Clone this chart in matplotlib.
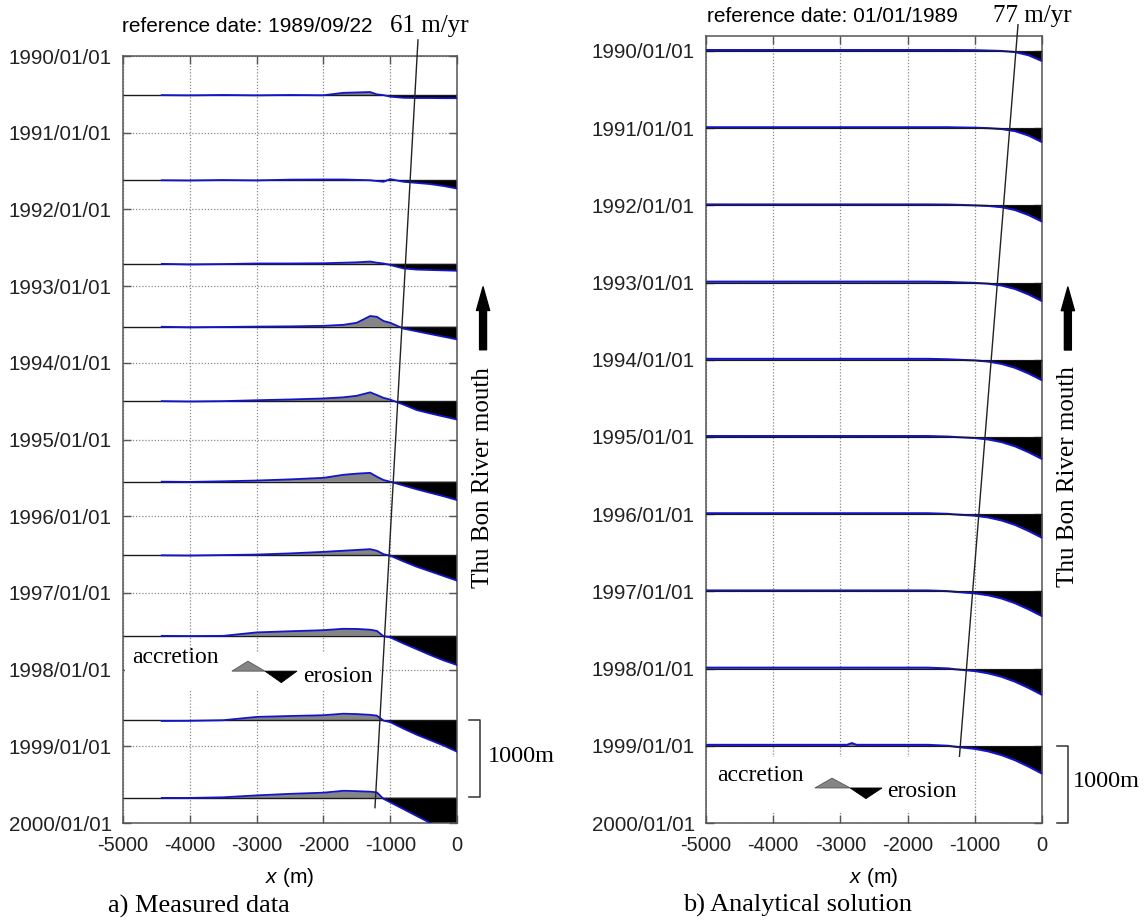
import numpy as np
import matplotlib
matplotlib.use('Agg')
import matplotlib.pyplot as plt
from matplotlib.patches import Polygon, Rectangle, FancyArrowPatch
from matplotlib.lines import Line2D
import matplotlib.transforms as mtransforms

SANS = ['Liberation Sans', 'DejaVu Sans']
SERIF = ['Liberation Serif', 'DejaVu Serif']
plt.rcParams['mathtext.fontset'] = 'custom'
plt.rcParams['mathtext.it'] = 'Liberation Sans:italic'
plt.rcParams['mathtext.rm'] = 'Liberation Sans'

# ---------------- data ----------------
year_ticks = list(range(1990, 2001))
year_labels = [f"{y}/01/01" for y in year_ticks]
x_ticks = [-5000, -4000, -3000, -2000, -1000, 0]
x_tick_labels = ['-5000', '-4000', '-3000', '-2000', '-1000', '0']

# a) measured shoreline change (m) relative to 1989/09/22, one profile per survey date
meas_dates = [1990.51, 1991.62, 1992.71, 1993.53, 1994.50,
              1995.55, 1996.51, 1997.56, 1998.66, 1999.67]
meas_x = [-4420, -4000, -3500, -3000, -2500, -2000, -1700, -1500, -1300,
          -1200, -1100, -1000, -800, -600, -400, -200, 0]
meas_p1 = [0, -3, 2, -3, 2, -2, 30, 35, 40, 10, 0, -20, -35, -38, -38, -40, -40]
meas_p2 = [0, -3, 3, -2, 8, 10, 10, 5, 0, -10, -20, 15, -20, -35, -50, -75, -108]
meas_p3 = [0, -8, -3, 5, 5, 8, 15, 20, 30, 15, 5, -15, -60, -75, -80, -85, -90]
meas_p4 = [0, -8, -3, 2, 5, 12, 25, 52, 140, 130, 75, 52, -25, -60, -95, -130, -165]
meas_p5 = [0, -5, 0, 12, 22, 35, 50, 70, 115, 80, 43, 20, -45, -117, -160, -200, -240]
meas_p6 = [0, -3, 5, 15, 30, 50, 90, 105, 115, 65, 22, 0, -50, -100, -145, -190, -240]
meas_p7 = [0, -3, 3, 10, 25, 45, 60, 70, 80, 60, 15, -5, -80, -150, -210, -270, -330]
meas_p8 = [0, -3, 0, 45, 60, 74, 92, 90, 80, 65, -5, -20, -100, -175, -250, -320, -380]
meas_p9 = [-10, -8, 0, 43, 55, 65, 85, 80, 70, 60, -5, -25, -110, -190, -260, -330, -410]
meas_p10 = [-3, -3, 5, 30, 50, 65, 90, 85, 78, 70, -15, -60, -150, -240, -330, -415, -500]
meas_profiles = [meas_p1, meas_p2, meas_p3, meas_p4, meas_p5,
                 meas_p6, meas_p7, meas_p8, meas_p9, meas_p10]

# b) analytical solution (m) relative to 01/01/1989
ana_dates = [1990, 1991, 1992, 1993, 1994, 1995, 1996, 1997, 1998, 1999]
ana_x = [-5000, -2900, -2830, -2760, -1700, -1400, -1300, -1000, -800, -600, -400, -200, 0]
ana_1990 = [12, 12, 12, 12, 12, 12, 12, 10, 5, 0, -14, -55, -130]
ana_1991 = [12, 12, 12, 12, 12, 12, 10, 6, 0, -11, -38, -95, -180]
ana_1992 = [12, 12, 12, 12, 12, 10, 8, 0, -7, -23, -60, -125, -210]
ana_1993 = [12, 12, 12, 12, 12, 8, 4, -4, -14, -38, -83, -153, -240]
ana_1994 = [12, 12, 12, 12, 12, 6, 2, -8, -23, -53, -104, -177, -265]
ana_1995 = [12, 12, 12, 12, 12, 5, 0, -13, -32, -66, -121, -197, -285]
ana_1996 = [12, 12, 12, 12, 12, 4, -3, -19, -42, -81, -139, -217, -305]
ana_1997 = [12, 12, 12, 12, 12, 3, -5, -25, -50, -92, -153, -232, -320]
ana_1998 = [12, 12, 12, 12, 12, 2, -8, -31, -61, -106, -170, -250, -340]
ana_1999 = [12, 12, 35, 12, 12, 0, -11, -39, -72, -121, -187, -269, -360]
ana_profiles = [ana_1990, ana_1991, ana_1992, ana_1993, ana_1994,
                ana_1995, ana_1996, ana_1997, ana_1998, ana_1999]

# river-mouth migration lines (x in m, date in years)
mouth_left_x = [-584, -1228]
mouth_left_t = [1989.79, 1999.80]
mouth_right_x = [-357, -1235]
mouth_right_t = [1989.66, 1999.21]

SCALE = 1000.0   # 1000 m of shoreline change = 1 year on the time axis

BLUE = '#1414c8'
GRAY = '#858585'

W, H = 1147, 922
fig = plt.figure(figsize=(W / 100, H / 100), dpi=100)
axL = fig.add_axes([123 / W, 1 - 823 / H, 334 / W, 767 / H])
axR = fig.add_axes([706 / W, 1 - 823 / H, 336 / W, 787 / H])


def style(ax, ylim):
    ax.set_xlim(-5000, 0)
    ax.set_ylim(*ylim)
    ax.set_xticks(x_ticks)
    ax.set_xticklabels(x_tick_labels, fontfamily=SANS, fontsize=14.5, color='#222222')
    ax.set_yticks(year_ticks)
    ax.set_yticklabels(year_labels, fontfamily=SANS, fontsize=14.8, color='#222222')
    ax.tick_params(direction='in', length=6, width=1.0, top=True, right=True,
                   color='#555555')
    ax.tick_params(axis='x', pad=9)
    ax.tick_params(axis='y', pad=8)
    ax.set_axisbelow(True)
    ax.grid(True, linestyle=(0, (1, 1.5)), color='#8a8a8a', lw=0.9)
    for s in ax.spines.values():
        s.set_color('#555555')
        s.set_linewidth(1.1)


style(axL, (2000, 1990))
style(axR, (2000, 1989.806))

# ---- measured profiles ----
mx = np.array(meas_x, dtype=float)
for base, dy in zip(meas_dates, meas_profiles):
    d = np.array(dy, dtype=float)
    yy = base - d / SCALE
    axL.fill_between(mx, base, yy, where=d >= 0, interpolate=True,
                     color=GRAY, lw=0, zorder=2)
    axL.fill_between(mx, base, yy, where=d <= 0, interpolate=True,
                     color='black', lw=0, zorder=2)
    axL.axhline(base, color='#1a1a1a', lw=1.0, zorder=2.5)
    axL.plot(mx, yy, color=BLUE, lw=1.3, zorder=3)

# ---- analytical profiles ----
ax_ = np.array(ana_x, dtype=float)
for base, dy in zip(ana_dates, ana_profiles):
    d = np.array(dy, dtype=float)
    yy = base - d / SCALE
    axR.fill_between(ax_, base, yy, where=d >= 0, interpolate=True,
                     color=GRAY, lw=0, zorder=2)
    axR.fill_between(ax_, base, yy, where=d <= 0, interpolate=True,
                     color='black', lw=0, zorder=2)
    axR.plot(ax_, yy, color=BLUE, lw=1.5, zorder=3)
    axR.axhline(base, color='#1a1a1a', lw=0.8, zorder=3.5)

# ---- legend boxes ----
axL.add_patch(Rectangle((0.006, 0.172), 0.762, 0.05, transform=axL.transAxes,
                        facecolor='white', edgecolor='none', zorder=1.5))
axR.add_patch(Rectangle((0.003, 0.014), 0.768, 0.07, transform=axR.transAxes,
                        facecolor='white', edgecolor='none', zorder=4))

# ---- migration lines ----
axL.plot(mouth_left_x, mouth_left_t, color='#222222', lw=1.0, zorder=5, clip_on=False)
axR.plot(mouth_right_x, mouth_right_t, color='#222222', lw=1.0, zorder=3.8, clip_on=False)


def legend(ax, tx_acc, ty_acc, gray_tri, black_tri, tx_ero, ty_ero):
    ax.add_patch(Polygon(gray_tri, closed=True, transform=ax.transAxes,
                         facecolor=GRAY, edgecolor='#555555', lw=0.6, zorder=6))
    ax.add_patch(Polygon(black_tri, closed=True, transform=ax.transAxes,
                         facecolor='black', edgecolor='black', lw=0.6, zorder=6))
    ax.text(tx_acc, ty_acc, 'accretion', transform=ax.transAxes, fontfamily=SERIF,
            fontsize=17, ha='left', va='center', zorder=7)
    ax.text(tx_ero, ty_ero, 'erosion', transform=ax.transAxes, fontfamily=SERIF,
            fontsize=17, ha='left', va='center', zorder=7)


legend(axL, 0.027, 0.216,
       [(0.326, 0.198), (0.374, 0.211), (0.425, 0.198)],
       [(0.425, 0.198), (0.474, 0.183), (0.521, 0.198)],
       0.539, 0.191)
legend(axR, 0.033, 0.060,
       [(0.324, 0.0445), (0.375, 0.057), (0.429, 0.0445)],
       [(0.429, 0.0445), (0.476, 0.031), (0.524, 0.0445)],
       0.539, 0.040)

# ---- 1000 m scale brackets ----
def bracket(ax, xv, xt, y0, y1, tx, ty):
    tr = mtransforms.blended_transform_factory(ax.transAxes, ax.transData)
    ax.add_line(Line2D([xt, xv, xv, xt], [y0, y0, y1, y1], transform=tr,
                       color='#333333', lw=1.1, clip_on=False))
    ax.text(tx, ty, '1000m', transform=tr, fontfamily=SERIF, fontsize=17.5,
            ha='left', va='center', clip_on=False)


bracket(axL, 1.069, 1.036, meas_dates[8], meas_dates[8] + 1.0, 1.093, meas_dates[8] + 0.47)
bracket(axR, 1.077, 1.044, 1999.0, 2000.0, 1.092, 1999.46)

# ---- river mouth labels & arrows ----
for ax, xf, ty, a0, a1 in [(axL, 1.078, 0.451, 0.617, 0.699),
                           (axR, 1.077, 0.440, 0.601, 0.681)]:
    ax.text(xf, ty, 'Thu Bon River mouth', rotation=90, transform=ax.transAxes,
            fontfamily=SERIF, fontsize=18, ha='center', va='center', clip_on=False)
    arr = FancyArrowPatch((xf, a0), (xf, a1), transform=ax.transAxes,
                          arrowstyle='simple,head_length=17,head_width=9.5,tail_width=5',
                          mutation_scale=1, color='black', shrinkA=0, shrinkB=0,
                          clip_on=False)
    ax.add_patch(arr)

# ---- titles / labels ----
fig.text(122 / W, 1 - 26 / H, 'reference date: 1989/09/22', fontfamily=SANS,
         fontsize=15, ha='left', va='center')
fig.text(390 / W, 1 - 26 / H, '61 m/yr', fontfamily=SERIF, fontsize=18,
         ha='left', va='center')
fig.text(707 / W, 1 - 16 / H, 'reference date: 01/01/1989', fontfamily=SANS,
         fontsize=15, ha='left', va='center')
fig.text(993 / W, 1 - 16 / H, '77 m/yr', fontfamily=SERIF, fontsize=18,
         ha='left', va='center')

fig.text(290 / W, 1 - 877 / H, r'$x$ (m)', fontfamily=SANS, fontsize=15,
         ha='center', va='center')
fig.text(874 / W, 1 - 877 / H, r'$x$ (m)', fontfamily=SANS, fontsize=15,
         ha='center', va='center')
fig.text(108 / W, 1 - 906 / H, 'a) Measured data', fontfamily=SERIF, fontsize=19,
         ha='left', va='center')
fig.text(683 / W, 1 - 905 / H, 'b) Analytical solution', fontfamily=SERIF, fontsize=19,
         ha='left', va='center')

fig.savefig('out.png', dpi=100, facecolor='white')
